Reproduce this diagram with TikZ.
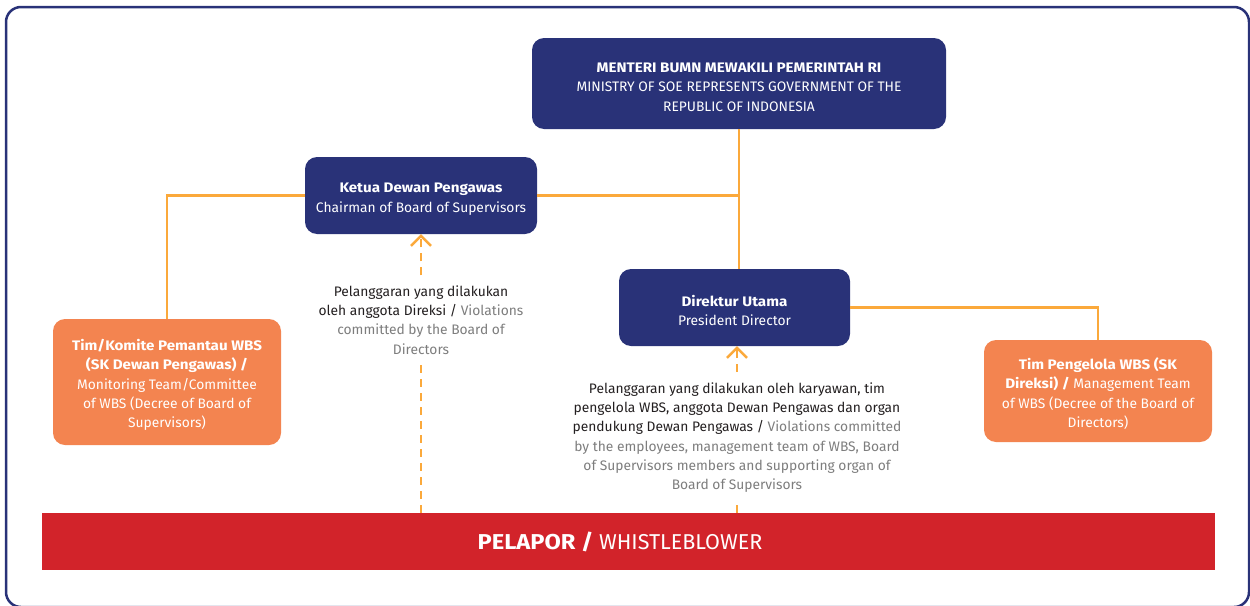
\documentclass[tikz,border=0pt]{standalone}
\usepackage{fontspec}
\setmainfont{Fira Sans}[BoldFeatures={FakeStretch=1.1}]
\usetikzlibrary{arrows.meta}

\definecolor{navy}{RGB}{41,50,120}
\definecolor{boxorange}{RGB}{243,132,80}
\definecolor{lineorange}{RGB}{251,169,59}
\definecolor{barred}{RGB}{210,35,42}
\definecolor{inkdark}{RGB}{35,31,32}
\definecolor{inkgrey}{RGB}{125,125,125}

% a tall strut on the first line sets the text block a little below centre
\newcommand{\toplinestrut}{\rule{0pt}{17pt}}

\tikzset{
  navybox/.style={fill=navy, rounded corners=12pt, text=white, align=center,
    inner sep=0pt, font=\fontsize{13.8}{19.3}\selectfont},
  orangebox/.style={fill=boxorange, rounded corners=12pt, text=white, align=center,
    inner sep=0pt, font=\fontsize{13.8}{19.3}\selectfont},
  conn/.style={draw=lineorange, line width=2.5pt},
  dashconn/.style={draw=lineorange, line width=2.5pt, dash pattern=on 8pt off 6pt},
  dasharrow/.style={dashconn, -{Straight Barb[length=10pt,width=20pt,line width=2.5pt]}},
  caption/.style={align=center, text=inkdark, inner sep=0pt,
    font=\fontsize{13.8}{19.3}\selectfont}
}

\begin{document}
\begin{tikzpicture}[x=1pt,y=-1pt]
\useasboundingbox (0,0) rectangle (1250,605);

% outer frame
\draw[navy, line width=2.5pt, rounded corners=15pt] (6,7) rectangle (1249,607);

% boxes
\node[navybox, minimum width=414pt, minimum height=91pt] (top) at (739,83.5)
  {\toplinestrut\textbf{MENTERI BUMN MEWAKILI PEMERINTAH RI}\\
   MINISTRY OF SOE REPRESENTS GOVERNMENT OF THE\\
   REPUBLIC OF INDONESIA};

\node[navybox, minimum width=232pt, minimum height=77pt] (ketua) at (421,195.5)
  {\toplinestrut\textbf{Ketua Dewan Pengawas}\\Chairman of Board of Supervisors};

\node[navybox, minimum width=231pt, minimum height=77pt] (direktur) at (734.5,307.5)
  {\toplinestrut\textbf{Direktur Utama}\\President Director};

\node[orangebox, minimum width=228pt, minimum height=126pt] (monitor) at (167,382)
  {\toplinestrut\textbf{Tim/Komite Pemantau WBS}\\
   \textbf{(SK Dewan Pengawas) /}\\
   Monitoring Team/Committee\\
   of WBS (Decree of Board of\\
   Supervisors)};

\node[orangebox, minimum width=228pt, minimum height=102pt] (manage) at (1098,391)
  {\toplinestrut\textbf{Tim Pengelola WBS (SK}\\
   \textbf{Direksi) /} Management Team\\
   of WBS (Decree of the Board of\\
   Directors)};

\node[fill=barred, minimum width=1173pt, minimum height=57pt, inner sep=0pt,
      text=white, font=\fontsize{21.5}{24}\selectfont] (bar) at (628.5,541.5)
  {\textbf{PELAPOR /} WHISTLEBLOWER\hspace*{17pt}};

% reporting-channel captions
\node[caption, inner sep=10pt] (capdir) at (421,320)
  {Pelanggaran yang dilakukan\\
   oleh anggota Direksi / \textcolor{inkgrey}{Violations}\\
   \textcolor{inkgrey}{committed by the Board of}\\
   \textcolor{inkgrey}{Directors}};

\node[caption, inner sep=10pt] (capemp) at (737,437.5)
  {Pelanggaran yang dilakukan oleh karyawan, tim\\
   pengelola WBS, anggota Dewan Pengawas dan organ\\
   pendukung Dewan Pengawas / \textcolor{inkgrey}{Violations committed}\\
   \textcolor{inkgrey}{by the employees, management team of WBS, Board}\\
   \textcolor{inkgrey}{of Supervisors members and supporting organ of}\\
   \textcolor{inkgrey}{Board of Supervisors}};

% organisation lines
\draw[conn] (top.south) -- (top.south |- direktur.north);
\draw[conn] (ketua.east) -- (ketua.east -| top.south);
\draw[conn] (ketua.west) -| (monitor.north);
\draw[conn] (direktur.east) -| (manage.north);

% reporting channels
\draw[dashconn] (bar.north -| capdir) -- (capdir.south);
\draw[dasharrow] (capdir.north) -- (capdir.north |- ketua.south);
\draw[dashconn] (bar.north -| capemp) -- (capemp.south);
\draw[dasharrow] (capemp.north) -- (capemp.north |- direktur.south);
\end{tikzpicture}
\end{document}
